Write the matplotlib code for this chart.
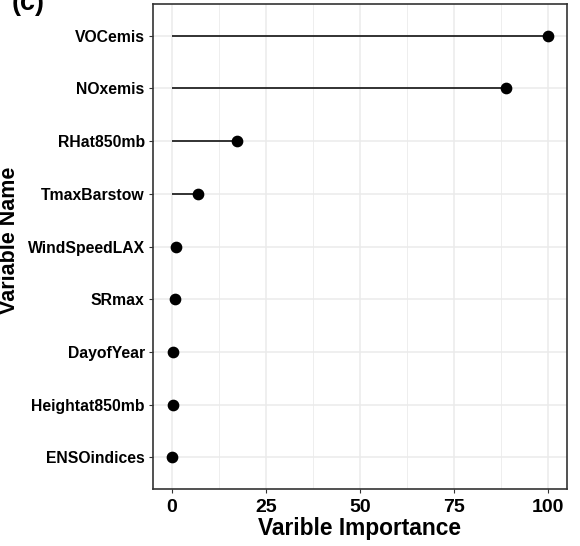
import matplotlib
import numpy as np
from matplotlib import pyplot as plt
from matplotlib.ticker import MultipleLocator

variables = [
    "VOCemis",
    "NOxemis",
    "RHat850mb",
    "TmaxBarstow",
    "WindSpeedLAX",
    "SRmax",
    "DayofYear",
    "Heightat850mb",
    "ENSOindices",
]
importance = [100.0, 88.8, 17.3, 7.0, 1.2, 0.9, 0.4, 0.2, 0.0]

matplotlib.rcParams.update({"font.family": "Liberation Sans", "font.weight": "bold"})

fig = plt.figure(figsize=(5.8, 5.46), dpi=100)
ax = fig.add_axes([153 / 580, 1 - 489 / 546, (567 - 153) / 580, (489 - 4) / 546])

y = np.arange(len(variables))[::-1]
ax.hlines(y, 0, importance, color="black", linewidth=1.1, zorder=3)
ax.scatter(importance, y, s=55, color="black", zorder=4)

ax.set_xlim(-5, 105)
ax.set_ylim(-0.6, len(variables) - 1 + 0.6)
ax.xaxis.set_major_locator(MultipleLocator(25))
ax.xaxis.set_minor_locator(MultipleLocator(12.5))
ax.set_yticks(y)
ax.set_yticklabels(variables)
ax.grid(which="major", color="#ebebeb", linewidth=1.1, zorder=0)
ax.grid(which="minor", axis="x", color="#ebebeb", linewidth=0.6, zorder=0)
ax.set_axisbelow(True)
ax.tick_params(axis="x", which="minor", length=0)
ax.tick_params(axis="both", which="major", length=3, width=0.8, color="#333333")
ax.tick_params(axis="y", labelsize=11.3, pad=3)
ax.tick_params(axis="x", labelsize=14, pad=4)
for s in ax.spines.values():
    s.set_color("#333333")
    s.set_linewidth(1.2)

ax.set_xlabel("Varible Importance", fontsize=16.4, fontweight="bold", labelpad=1)
fig.text(10 / 580, 1 - 240 / 546, "Variable Name", fontsize=15.5, fontweight="bold",
         rotation=90, ha="center", va="center")
fig.text(12 / 580, 1 - 10 / 546, "(c)", fontsize=19.5, fontweight="bold",
         ha="left", va="baseline")

fig.savefig("out.png", dpi=100)
